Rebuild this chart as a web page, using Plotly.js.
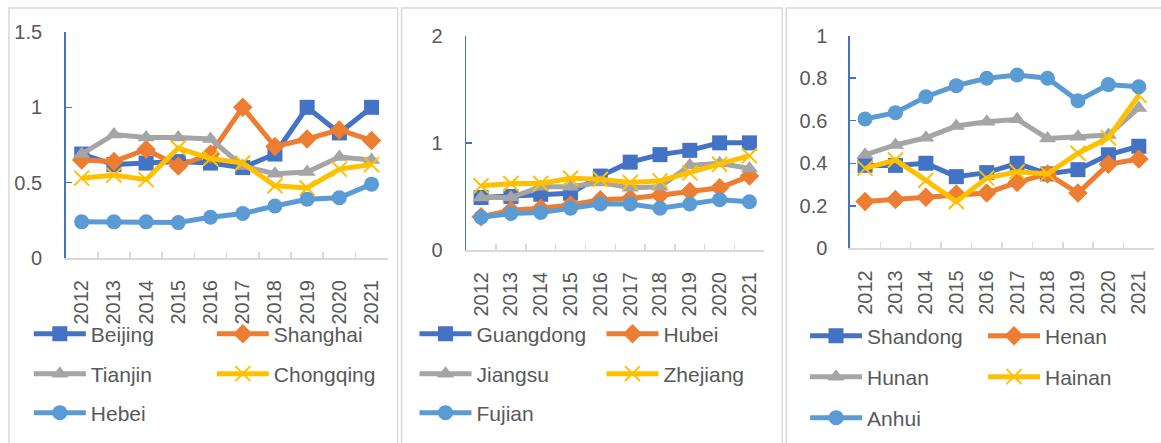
<!DOCTYPE html>
<html>
<head>
<meta charset="utf-8">
<script src="https://cdn.plot.ly/plotly-3.0.1.min.js"></script>
<style>html,body{margin:0;padding:0;background:#fff;}#chart{width:1161px;height:443px;}</style>
</head>
<body>
<div id="chart"></div>
<script>
// ---- data ----
const years = ['2012','2013','2014','2015','2016','2017','2018','2019','2020','2021'];

// panel 1
const beijing   = [0.69, 0.62, 0.63, 0.64, 0.63, 0.60, 0.69, 1.00, 0.83, 1.00];
const shanghai  = [0.65, 0.64, 0.72, 0.61, 0.69, 1.00, 0.74, 0.79, 0.85, 0.78];
const tianjin   = [0.69, 0.82, 0.80, 0.80, 0.79, 0.61, 0.56, 0.57, 0.67, 0.65];
const chongqing = [0.53, 0.55, 0.52, 0.73, 0.66, 0.63, 0.48, 0.465, 0.59, 0.62];
const hebei     = [0.24, 0.24, 0.24, 0.235, 0.27, 0.295, 0.345, 0.39, 0.40, 0.49];

// panel 2
const guangdong = [0.49, 0.50, 0.52, 0.53, 0.69, 0.82, 0.89, 0.93, 1.00, 1.00];
const hubei     = [0.31, 0.37, 0.39, 0.42, 0.47, 0.48, 0.51, 0.545, 0.58, 0.69];
const jiangsu   = [0.49, 0.49, 0.59, 0.59, 0.63, 0.58, 0.59, 0.79, 0.81, 0.76];
const zhejiang  = [0.60, 0.62, 0.62, 0.67, 0.66, 0.63, 0.645, 0.72, 0.80, 0.88];
const fujian    = [0.305, 0.34, 0.35, 0.39, 0.43, 0.43, 0.39, 0.43, 0.47, 0.45];

// panel 3
const shandong  = [0.39, 0.39, 0.40, 0.337, 0.356, 0.40, 0.35, 0.37, 0.44, 0.48];
const henan     = [0.22, 0.23, 0.24, 0.255, 0.26, 0.31, 0.35, 0.26, 0.395, 0.42];
const hunan     = [0.44, 0.486, 0.52, 0.575, 0.595, 0.607, 0.517, 0.525, 0.533, 0.66];
const hainan    = [0.376, 0.415, 0.32, 0.22, 0.33, 0.36, 0.35, 0.447, 0.52, 0.72];
const anhui     = [0.608, 0.638, 0.713, 0.765, 0.80, 0.815, 0.80, 0.694, 0.77, 0.76];

// y tick labels
const y1TickVals = [0, 0.5, 1, 1.5];
const y1TickText = ['0', '0.5', '1', '1.5'];
const y2TickVals = [0, 1, 2];
const y2TickText = ['0', '1', '2'];
const y3TickVals = [0, 0.2, 0.4, 0.6, 0.8, 1];
const y3TickText = ['0', '0.2', '0.4', '0.6', '0.8', '1'];

// ---- styles ----
const W = 1161, H = 443;
const C = {blue:'#4472C4', orange:'#ED7D31', gray:'#A5A5A5', yellow:'#FFC000', lblue:'#5B9BD5'};
const TXT = '#595959';
const FONT = 'Liberation Sans, Arial, sans-serif';
const LW = 5;

function mk(style, color) {
  if (style === 'x') return {symbol:'x-thin', size:15, color:color, line:{color:color, width:2}};
  return {symbol:style, size:15, color:color, line:{width:0}};
}
function tr(name, y, style, color, ax, leg) {
  return {
    type:'scatter', mode:'lines+markers', name:name, x:years, y:y,
    xaxis:'x'+ax, yaxis:'y'+ax, legend:leg,
    line:{color:color, width:LW}, marker:mk(style, color), cliponaxis:false
  };
}

const data = [
  tr('Beijing', beijing, 'square', C.blue, '', 'legend'),
  tr('Shanghai', shanghai, 'diamond', C.orange, '', 'legend'),
  tr('Tianjin', tianjin, 'triangle-up', C.gray, '', 'legend2'),
  tr('Chongqing', chongqing, 'x', C.yellow, '', 'legend2'),
  tr('Hebei', hebei, 'circle', C.lblue, '', 'legend3'),

  tr('Guangdong', guangdong, 'square', C.blue, '2', 'legend4'),
  tr('Hubei', hubei, 'diamond', C.orange, '2', 'legend4'),
  tr('Jiangsu', jiangsu, 'triangle-up', C.gray, '2', 'legend5'),
  tr('Zhejiang', zhejiang, 'x', C.yellow, '2', 'legend5'),
  tr('Fujian', fujian, 'circle', C.lblue, '2', 'legend6'),

  tr('Shandong', shandong, 'square', C.blue, '3', 'legend7'),
  tr('Henan', henan, 'diamond', C.orange, '3', 'legend7'),
  tr('Hunan', hunan, 'triangle-up', C.gray, '3', 'legend8'),
  tr('Hainan', hainan, 'x', C.yellow, '3', 'legend8'),
  tr('Anhui', anhui, 'circle', C.lblue, '3', 'legend9'),
];

function px(x) { return x / W; }
function py(y) { return (H - y) / H; }

function xax(x0, x1, yname) {
  return {
    type:'category', domain:[px(x0), Math.min(1, px(x1))], anchor:yname, range:[-0.5, 9.5],
    showline:true, linecolor:'#D9D9D9', linewidth:2, showgrid:false, zeroline:false,
    ticks:'inside', tickson:'boundaries', ticklen:6, tickcolor:'#D9D9D9', tickwidth:1.5,
    tickangle:-90, tickfont:{family:FONT, size:20, color:TXT}, ticklabelstandoff:12, fixedrange:true
  };
}
function yax(yTop, y0, range, tv, tt, xname, standoff) {
  return {
    domain:[py(y0), py(yTop)], anchor:xname, range:range,
    tickmode:'array', tickvals:tv, ticktext:tt,
    showline:true, linecolor:C.blue, linewidth:1.5, showgrid:false, zeroline:false,
    ticks:'inside', ticklen:6, tickcolor:C.blue, tickwidth:1.5,
    tickfont:{family:FONT, size:20, color:TXT}, ticklabelstandoff:standoff, fixedrange:true
  };
}
function leg(xLine, yCenter, entryW) {
  return {
    x:px(xLine - 5), y:py(yCenter), xanchor:'left', yanchor:'middle',
    orientation:'h', entrywidth:entryW, entrywidthmode:'pixels', itemwidth:52,
    font:{family:FONT, size:21, color:TXT}, bgcolor:'rgba(0,0,0,0)', borderwidth:0,
    traceorder:'normal', itemclick:false, itemdoubleclick:false
  };
}

const border = {color:'#D9D9D9', width:1.5};
const layout = {
  width:W, height:H, autosize:false,
  margin:{l:0, r:0, t:0, b:0, pad:0},
  paper_bgcolor:'#fff', plot_bgcolor:'rgba(0,0,0,0)',
  font:{family:FONT, color:TXT},
  xaxis: xax(66, 390, 'y'),
  yaxis: yax(32, 258, [0, 1.5], y1TickVals, y1TickText, 'x', 18),
  xaxis2: xax(469, 769, 'y2'),
  yaxis2: yax(35.7, 250, [0, 2], y2TickVals, y2TickText, 'x2', 18),
  xaxis3: xax(855, 1162, 'y3'),
  yaxis3: yax(35.7, 248.3, [0, 1], y3TickVals, y3TickText, 'x3', 17),
  legend:  leg(34, 334, 116),
  legend2: leg(34, 374, 116),
  legend3: leg(34, 413, 116),
  legend4: leg(422, 334, 120),
  legend5: leg(422, 374, 120),
  legend6: leg(422, 413, 120),
  legend7: leg(815, 336, 111),
  legend8: leg(815, 377, 111),
  legend9: leg(815, 418, 111),
  shapes: [
    {type:'rect', xref:'paper', yref:'paper', x0:px(9), x1:px(400), y0:-0.1, y1:py(8), line:border, layer:'below'},
    {type:'rect', xref:'paper', yref:'paper', x0:px(404), x1:px(787), y0:-0.1, y1:py(8), line:border, layer:'below'},
    {type:'rect', xref:'paper', yref:'paper', x0:px(791), x1:1.05, y0:-0.1, y1:py(8), line:border, layer:'below'}
  ]
};

Plotly.newPlot('chart', data, layout, {displayModeBar:false, staticPlot:true});
</script>
</body>
</html>
